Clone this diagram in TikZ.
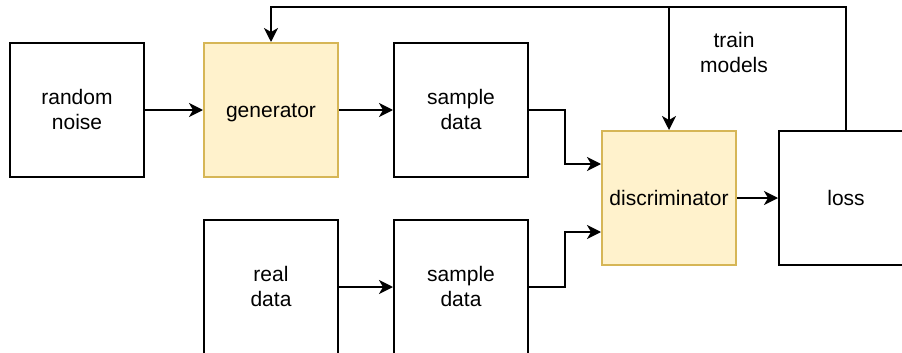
\documentclass[tikz,border=0pt]{standalone}
\usepackage{fontspec}
\setmainfont{Liberation Sans}
\usetikzlibrary{arrows.meta,calc}
\definecolor{yfill}{HTML}{FFF2CC}
\definecolor{ydraw}{HTML}{D6B656}
\newcommand\strtop{\rule{0pt}{21pt}}
\newcommand\strbot{\rule[-7pt]{0pt}{7pt}}
\tikzset{
  txt/.style={align=center,font=\fontsize{21}{25}\selectfont},
  box/.style={txt,draw=black,line width=2pt,minimum width=134pt,minimum height=134pt,inner sep=0pt},
  ybox/.style={box,draw=ydraw,fill=yfill},
  conn/.style={line width=2pt,-{Stealth[length=14pt,width=14pt,inset=4pt]}}
}
\begin{document}
\begin{tikzpicture}[x=1pt,y=-1pt]
\useasboundingbox (0,0) rectangle (902,353);
\clip (0,0) rectangle (902,353);
\node[box] (noise) at (77,110) {\strtop random\\noise\strbot};
\node[ybox] (gen) at (271,110) {\strtop generator\strbot};
\node[box] (sd1) at (461,110) {\strtop sample\\data\strbot};
\node[ybox] (disc) at (669,198) {\strtop discriminator\strbot};
\node[box] (loss) at (846,198) {\strtop loss\strbot};
\node[box] (real) at (271,287) {\strtop real\\data\strbot};
\node[box] (sd2) at (461,287) {\strtop sample\\data\strbot};
\node[txt,inner sep=0pt] (lbl) at (734,53) {\strtop train\\models\strbot};
\coordinate (top) at (0,7);
\coordinate (jx) at (565,0);
\draw[conn] (noise.east) -- (gen.west);
\draw[conn] (gen.east) -- (sd1.west);
\draw[conn] (real.east) -- (sd2.west);
\draw[conn] (sd1.east) -- (sd1.east -| jx) |- ($(disc.west)+(0,-34)$);
\draw[conn] (sd2.east) -- (sd2.east -| jx) |- ($(disc.west)+(0,34)$);
\draw[conn] (disc.east) -- (loss.west);
\draw[conn] (loss.north) -- (loss.north |- top) -| (gen.north);
\draw[conn] (disc.north |- top) -- (disc.north);
\end{tikzpicture}
\end{document}
